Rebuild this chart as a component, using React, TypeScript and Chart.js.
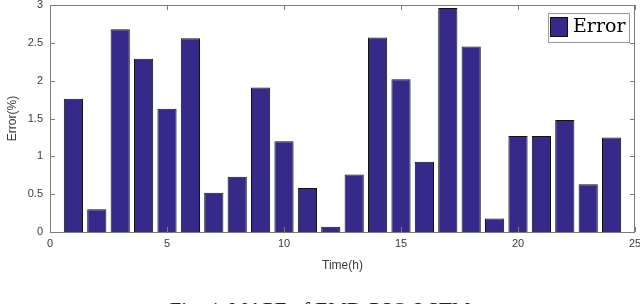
import React, { useEffect, useRef } from "react";
import { Chart, registerables } from "chart.js";

Chart.register(...registerables);

const hours = [1, 2, 3, 4, 5, 6, 7, 8, 9, 10, 11, 12, 13, 14, 15, 16, 17, 18, 19, 20, 21, 22, 23, 24];
const errors = [1.76, 0.3, 2.68, 2.29, 1.63, 2.56, 0.52, 0.73, 1.91, 1.2, 0.58, 0.07, 0.76, 2.57, 2.02, 0.93, 2.96, 2.45, 0.18, 1.27, 1.27, 1.48, 0.63, 1.25];
const xTicks = [0, 5, 10, 15, 20, 25];
const yTicks = [0, 0.5, 1, 1.5, 2, 2.5, 3];
const seriesLabel = "Error";
const xTitle = "Time(h)";
const yTitle = "Error(%)";
const caption = "Fig. 4. MAPE of EMD-PSO-LSTM";

const BAR_FILL = "#35298a";
const BAR_EDGE = "#111111";
const AXIS = "#7c7c7c";
const TEXT = "#3a3a3a";

const framePlugin = {
  id: "framePlugin",
  afterDraw(chart: any) {
    const { ctx, chartArea, scales } = chart;
    const { left, right, top, bottom } = chartArea;
    const xs = scales.x;
    const ys = scales.y;
    ctx.save();
    ctx.strokeStyle = AXIS;
    ctx.lineWidth = 1;
    ctx.strokeRect(Math.round(left) + 0.5, Math.round(top) + 0.5, Math.round(right - left) - 1, Math.round(bottom - top));
    const tl = 5;
    ctx.beginPath();
    xs.ticks.forEach((t: any) => {
      const px = Math.round(xs.getPixelForValue(t.value)) + 0.5;
      ctx.moveTo(px, bottom);
      ctx.lineTo(px, bottom - tl);
      ctx.moveTo(px, top);
      ctx.lineTo(px, top + tl);
    });
    ys.ticks.forEach((t: any) => {
      const py = Math.round(ys.getPixelForValue(t.value)) + 0.5;
      ctx.moveTo(left, py);
      ctx.lineTo(left + tl, py);
      ctx.moveTo(right, py);
      ctx.lineTo(right - tl, py);
    });
    ctx.stroke();
    ctx.restore();
  },
};

const legendPlugin = {
  id: "boxLegend",
  afterDraw(chart: any) {
    const ds = chart.data.datasets[0];
    const { ctx, chartArea } = chart;
    ctx.save();
    ctx.font = '19px "DejaVu Serif"';
    const tw = ctx.measureText(ds.label).width;
    const sw = 18;
    const sh = 20;
    const w = 2 + sw + 5 + tw + 3;
    const h = 29;
    const R = Math.round(chartArea.right) - 6;
    const L = Math.round(R - w);
    const T = Math.round(chartArea.top) + 8;
    ctx.fillStyle = "#ffffff";
    ctx.fillRect(L, T, w, h);
    ctx.strokeStyle = "#9a9a9a";
    ctx.lineWidth = 1;
    ctx.strokeRect(L + 0.5, T + 0.5, Math.round(w), h);
    ctx.fillStyle = ds.backgroundColor;
    ctx.fillRect(L + 2, T + 4, sw, sh);
    ctx.strokeStyle = ds.borderColor;
    ctx.strokeRect(L + 2.5, T + 4.5, sw - 1, sh - 1);
    ctx.fillStyle = "#000000";
    ctx.textBaseline = "alphabetic";
    ctx.textAlign = "left";
    ctx.fillText(ds.label, L + 2 + sw + 5, T + 19);
    ctx.restore();
  },
};

export default function App() {
  const canvasRef = useRef<HTMLCanvasElement | null>(null);

  useEffect(() => {
    if (!canvasRef.current) return;
    const chart = new Chart(canvasRef.current, {
      type: "bar",
      data: {
        datasets: [
          {
            label: seriesLabel,
            data: hours.map((h, i) => ({ x: h, y: errors[i] })),
            backgroundColor: BAR_FILL,
            borderColor: BAR_EDGE,
            borderWidth: 1,
            borderSkipped: "bottom",
            categoryPercentage: 1,
            barPercentage: 0.82,
          } as any,
        ],
      },
      options: {
        animation: false,
        responsive: true,
        maintainAspectRatio: false,
        layout: { padding: { top: 5, right: 5, left: 0, bottom: 0 } },
        plugins: {
          legend: { display: false },
          tooltip: { enabled: false },
        },
        scales: {
          x: {
            type: "linear",
            min: 0,
            max: 25,
            offset: false,
            grid: { display: false, drawTicks: false },
            border: { display: false },
            afterBuildTicks: (s: any) => {
              s.ticks = xTicks.map((v) => ({ value: v }));
            },
            afterFit: (s: any) => {
              s.height = 58;
              s.paddingLeft = 0;
              s.paddingRight = 0;
            },
            ticks: {
              padding: 5,
              color: TEXT,
              font: { family: '"Liberation Sans", Arial, sans-serif', size: 11 },
              maxRotation: 0,
              autoSkip: false,
              callback: (v: any) => String(v),
            },
            title: {
              display: true,
              text: xTitle,
              color: TEXT,
              font: { family: '"Liberation Sans", Arial, sans-serif', size: 12 },
              padding: { top: 0, bottom: 17 },
            },
          },
          y: {
            type: "linear",
            min: 0,
            max: 3,
            grid: { display: false, drawTicks: false },
            border: { display: false },
            afterBuildTicks: (s: any) => {
              s.ticks = yTicks.map((v) => ({ value: v }));
            },
            afterFit: (s: any) => {
              s.width = 50;
              s.paddingTop = 0;
              s.paddingBottom = 0;
            },
            ticks: {
              padding: 7,
              color: TEXT,
              font: { family: '"Liberation Sans", Arial, sans-serif', size: 11 },
              callback: (v: any) => String(v),
            },
            title: {
              display: true,
              text: yTitle,
              color: TEXT,
              font: { family: '"Liberation Sans", Arial, sans-serif', size: 12 },
              padding: { top: 5, bottom: 0 },
            },
          },
        },
      } as any,
      plugins: [framePlugin, legendPlugin],
    });
    return () => chart.destroy();
  }, []);

  return (
    <div
      style={{
        position: "fixed",
        left: 0,
        top: 0,
        width: 640,
        height: 304,
        overflow: "hidden",
        background: "#ffffff",
      }}
    >
      <div style={{ position: "absolute", left: 0, top: 0, width: 640, height: 290 }}>
        <canvas ref={canvasRef} />
      </div>
      <div
        style={{
          position: "absolute",
          left: 0,
          top: 298,
          width: 640,
          textAlign: "center",
          fontFamily: '"Liberation Serif", serif',
          fontSize: 21,
          lineHeight: "24px",
          color: "#222",
          whiteSpace: "nowrap",
        }}
      >
        {caption}
      </div>
    </div>
  );
}
